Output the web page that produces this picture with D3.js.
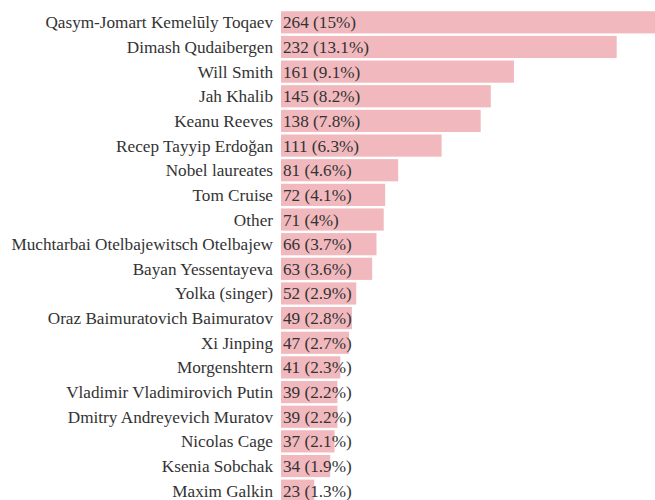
<!DOCTYPE html>
<html>
<head>
<meta charset="utf-8">
<script src="https://cdn.jsdelivr.net/npm/d3@7"></script>
<style>
  body { margin: 0; background: #fff; }
  svg { display: block; }
</style>
</head>
<body>
<svg id="chart" width="655" height="500"></svg>
<script>
// names and counts
var names = [
  'Qasym-Jomart Kemelūly Toqaev', 'Dimash Qudaibergen', 'Will Smith', 'Jah Khalib',
  'Keanu Reeves', 'Recep Tayyip Erdoğan', 'Nobel laureates', 'Tom Cruise', 'Other',
  'Muchtarbai Otelbajewitsch Otelbajew', 'Bayan Yessentayeva', 'Yolka (singer)',
  'Oraz Baimuratovich Baimuratov', 'Xi Jinping', 'Morgenshtern',
  'Vladimir Vladimirovich Putin', 'Dmitry Andreyevich Muratov', 'Nicolas Cage',
  'Ksenia Sobchak', 'Maxim Galkin'
];
var counts = [264, 232, 161, 145, 138, 111, 81, 72, 71, 66, 63, 52, 49, 47, 41, 39, 39, 37, 34, 23];
var shares = ['15', '13.1', '9.1', '8.2', '7.8', '6.3', '4.6', '4.1', '4', '3.7', '3.6', '2.9',
  '2.8', '2.7', '2.3', '2.2', '2.2', '2.1', '1.9', '1.3'];

var rows = names.map(function(n, i) {
  return { name: n, count: counts[i], share: shares[i] };
});

var font = '"Liberation Serif", "Times New Roman", serif';
var svg = d3.select('#chart');
var left = 281;

var x = d3.scaleLinear()
  .domain([0, 264])
  .range([left, 663]);

var y = d3.scaleBand()
  .domain(names)
  .range([10, 10 + names.length * 24.65])
  .paddingInner(0.1)
  .paddingOuter(0.05);

var row = svg.selectAll('g.row')
  .data(rows)
  .enter().append('g')
  .attr('class', 'row');

row.append('rect')
  .attr('x', x(0))
  .attr('y', function(d) { return y(d.name); })
  .attr('width', function(d) { return x(d.count) - x(0); })
  .attr('height', y.bandwidth())
  .attr('fill', '#f1b9bd');

row.append('text')
  .attr('x', left - 8)
  .attr('y', function(d) { return y(d.name) + y.bandwidth() / 2; })
  .attr('dy', '0.35em')
  .attr('text-anchor', 'end')
  .attr('font-family', font)
  .attr('font-size', 17.2)
  .attr('fill', '#333')
  .text(function(d) { return d.name; });

row.append('text')
  .attr('x', left + 2)
  .attr('y', function(d) { return y(d.name) + y.bandwidth() / 2; })
  .attr('dy', '0.35em')
  .attr('font-family', font)
  .attr('font-size', 17.2)
  .attr('fill', '#333')
  .text(function(d) { return d.count + ' (' + d.share + '%)'; });
</script>
</body>
</html>
